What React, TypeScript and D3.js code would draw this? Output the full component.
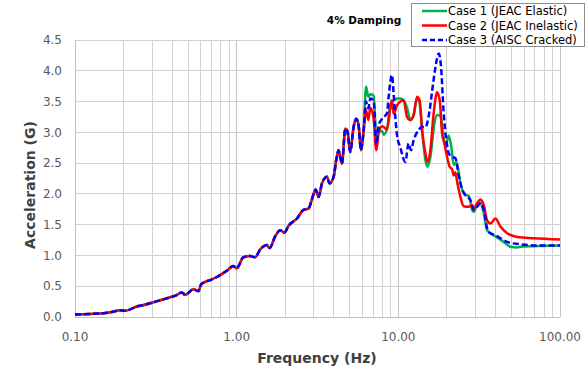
import React from 'react'
import * as d3 from 'd3'

// all three cases sit on top of each other below ~6 Hz
const sharedFreq = [
  0.1, 0.124, 0.15, 0.169, 0.19, 0.204, 0.241, 0.271, 0.305, 0.346, 0.387, 0.422, 0.458, 0.48,
  0.54, 0.58, 0.603, 0.638, 0.686, 0.754, 0.813, 0.869, 0.955, 1.0, 1.1, 1.21, 1.3, 1.4, 1.54,
  1.6, 1.73, 1.86, 1.97, 2.09, 2.36, 2.59, 2.78, 2.92, 3.08, 3.21, 3.37, 3.62, 3.75, 3.98, 4.13,
  4.27, 4.37, 4.48, 4.7, 4.85, 5.04, 5.29, 5.5, 5.68, 5.87,
]
const sharedAcc = [
  0.04, 0.05, 0.06, 0.08, 0.11, 0.1, 0.17, 0.2, 0.24, 0.28, 0.32, 0.35, 0.4, 0.36,
  0.45, 0.42, 0.53, 0.57, 0.6, 0.65, 0.7, 0.75, 0.83, 0.79, 0.97, 0.99, 0.97, 1.1, 1.17,
  1.12, 1.31, 1.41, 1.37, 1.48, 1.6, 1.74, 1.76, 1.91, 2.07, 1.95, 2.17, 2.28, 2.17, 2.28, 2.55,
  2.71, 2.6, 2.49, 3.06, 3.01, 2.68, 3.09, 3.22, 3.11, 2.71,
]

const case1Freq = [
  6.1, 6.31, 6.52, 6.71, 7.03, 7.31, 7.55, 7.93, 8.11, 8.51, 8.92, 9.35, 9.82, 10.29, 10.79,
  11.32, 11.87, 12.43, 13.06, 13.55, 14.02, 14.7, 15.18, 15.78, 16.71, 17.36, 18.2, 18.92, 19.54,
  20.49, 21.29, 22.0, 22.9, 24.21, 25.37, 26.0, 27.25, 28.6, 29.27, 30.72, 32.2, 33.75, 35.42,
  37.13, 39.87, 44.87, 49.38, 54.32, 56.93, 68.85, 100,
]
const case1Acc = [
  3.03, 3.74, 3.58, 3.62, 3.6, 2.93, 3.02, 3.02, 2.96, 3.05, 3.45, 3.52, 3.55, 3.55, 3.52,
  3.4, 3.2, 3.28, 3.55, 3.47, 3.04, 2.55, 2.44, 2.6, 3.14, 3.28, 3.27, 2.98, 2.77,
  2.95, 2.75, 2.47, 2.52, 2.17, 2.01, 1.98, 1.97, 1.74, 1.71, 1.82, 1.85, 1.69, 1.41,
  1.36, 1.31, 1.22, 1.14, 1.13, 1.14, 1.15, 1.16,
]

const case2Freq = [
  6.1, 6.31, 6.52, 6.71, 7.03, 7.31, 7.55, 7.93, 8.51, 8.92, 9.14, 9.35, 9.82, 10.29, 10.79,
  11.32, 11.87, 12.43, 13.06, 13.55, 14.02, 14.7, 15.18, 15.78, 16.54, 17.36, 18.03, 18.65,
  19.27, 20.03, 20.78, 21.5, 22.0, 22.54, 23.09, 24.21, 25.37, 27.25, 28.6, 29.27, 30.72, 32.2,
  33.75, 35.42, 37.13, 39.87, 42.81, 47.11, 54.32, 68.85, 100,
]
const case2Acc = [
  3.03, 3.36, 3.2, 3.4, 3.22, 2.71, 2.98, 3.1, 3.05, 3.4, 3.52, 3.3, 3.44, 3.5, 3.52,
  3.25, 3.2, 3.28, 3.58, 3.52, 3.04, 2.66, 2.52, 2.71, 3.31, 3.65, 3.52, 2.98,
  2.82, 2.6, 2.44, 2.4, 2.3, 2.35, 2.2, 1.95, 1.8, 1.79, 1.82, 1.76, 1.85, 1.91,
  1.82, 1.57, 1.52, 1.6, 1.47, 1.36, 1.3, 1.28, 1.26,
]

const case3Freq = [
  6.1, 6.31, 6.52, 6.71, 7.03, 7.31, 7.55, 7.93, 8.51, 8.71, 9.14, 9.35, 9.58, 9.82, 10.29,
  11.05, 11.58, 11.98, 12.43, 13.36, 14.02, 14.7, 15.62, 16.4, 17.36, 17.77, 18.38, 19.08, 19.83,
  20.49, 21.5, 22.54, 23.63, 24.8, 26.0, 27.92, 29.27, 30.72, 32.2, 33.75, 35.42, 37.13, 39.87,
  42.81, 47.11, 56.93, 75.72, 100,
]
const case3Acc = [
  3.03, 3.5, 3.39, 3.55, 3.52, 2.8, 3.1, 3.22, 3.31, 3.58, 3.93, 3.63, 3.25, 2.95, 2.75,
  2.52, 2.82, 2.71, 2.87, 3.04, 3.09, 3.08, 3.36, 3.79, 4.2, 4.28, 4.06, 3.31, 2.87,
  2.66, 2.6, 2.58, 2.3, 2.08, 1.98, 1.9, 1.74, 1.79, 1.85, 1.74, 1.44, 1.36, 1.33,
  1.28, 1.22, 1.18, 1.16, 1.16,
]

const seriesNames = ['Case 1 (JEAC Elastic)', 'Case 2 (JEAC Inelastic)', 'Case 3 (AISC Cracked)']
const seriesColors = ['#00b050', '#ff0000', '#0000ff']
const xTicks = [0.1, 1, 10, 100]
const yTicks = [0, 0.5, 1, 1.5, 2, 2.5, 3, 3.5, 4, 4.5]

const toPoints = (fs: number[], as: number[]) => fs.map((f, i) => [f, as[i]] as [number, number])
const shared = toPoints(sharedFreq, sharedAcc)
const series = [
  shared.concat(toPoints(case1Freq, case1Acc)),
  shared.concat(toPoints(case2Freq, case2Acc)),
  shared.concat(toPoints(case3Freq, case3Acc)),
]

const W = 586
const H = 374
const left = 75
const right = 560
const top = 40
const bottom = 317

export default function App() {
  const x = d3.scaleLog().domain([0.1, 100]).range([left, right])
  const y = d3.scaleLinear().domain([0, 4.5]).range([bottom, top])
  const line = d3
    .line<[number, number]>()
    .x(d => x(d[0]))
    .y(d => y(d[1]))
    .curve(d3.curveMonotoneX)

  // minor decade lines 0.2..0.9, 2..9, ...
  const minor: number[] = []
  for (const dec of [0.1, 1, 10]) for (let k = 2; k <= 9; k++) minor.push(dec * k)

  const fmtX = d3.format('.2f')
  const fmtY = d3.format('.1f')
  const font = 'DejaVu Sans, Verdana, sans-serif'

  return (
    <svg width={W} height={H} style={{ position: 'absolute', left: 0, top: 0 }} fontFamily={font}>
      <rect width={W} height={H} fill="#fff" />

      {/* grid */}
      <g stroke="#d2d2d2" strokeWidth={1} shapeRendering="crispEdges">
        {minor.map(v => (
          <line key={'m' + v} x1={x(v)} x2={x(v)} y1={top} y2={bottom} />
        ))}
        {xTicks.map(v => (
          <line key={'M' + v} x1={x(v)} x2={x(v)} y1={top} y2={bottom} stroke="#c4c4c4" />
        ))}
        {yTicks.map(v => (
          <line key={'y' + v} x1={left} x2={right} y1={y(v)} y2={y(v)} />
        ))}
      </g>
      <g stroke="#bfbfbf" shapeRendering="crispEdges">
        <line x1={left} x2={left} y1={top} y2={bottom} />
        <line x1={left} x2={right} y1={bottom} y2={bottom} />
      </g>

      {/* tick labels */}
      <g fill="#595959" fontSize={12}>
        {yTicks.map(v => (
          <text key={v} x={62} y={y(v)} dy="0.35em" textAnchor="end">
            {fmtY(v)}
          </text>
        ))}
        {xTicks.map(v => (
          <text key={v} x={x(v)} y={341} textAnchor="middle">
            {fmtX(v)}
          </text>
        ))}
      </g>

      {/* axis titles */}
      <text x={317} y={363} textAnchor="middle" fontSize={14} fontWeight="bold" fill="#404040">
        Frequency (Hz)
      </text>
      <text
        transform="translate(35,185) rotate(-90)"
        textAnchor="middle"
        fontSize={14}
        fontWeight="bold"
        fill="#404040"
      >
        Acceleration (G)
      </text>

      {/* curves */}
      <g fill="none" strokeLinejoin="round">
        {series.map((s, i) => (
          <path
            key={i}
            d={line(s) || ''}
            stroke={seriesColors[i]}
            strokeWidth={2.5}
            strokeDasharray={i === 2 ? '6,3' : undefined}
          />
        ))}
      </g>

      <text x={364} y={24} textAnchor="middle" fontSize={10.5} fontWeight="bold" fill="#000">
        4% Damping
      </text>

      {/* legend */}
      <rect x={411.5} y={3.5} width={173} height={43} fill="#fff" stroke="#8c8c8c" />
      {seriesNames.map((name, i) => (
        <g key={name} transform={`translate(0, ${11 + i * 14.5})`}>
          <line
            x1={422}
            x2={447}
            stroke={seriesColors[i]}
            strokeWidth={2.5}
            strokeDasharray={i === 2 ? '5,3' : undefined}
          />
          <text x={448} dy="0.35em" fontSize={11.5} fill="#000">
            {name}
          </text>
        </g>
      ))}
    </svg>
  )
}
